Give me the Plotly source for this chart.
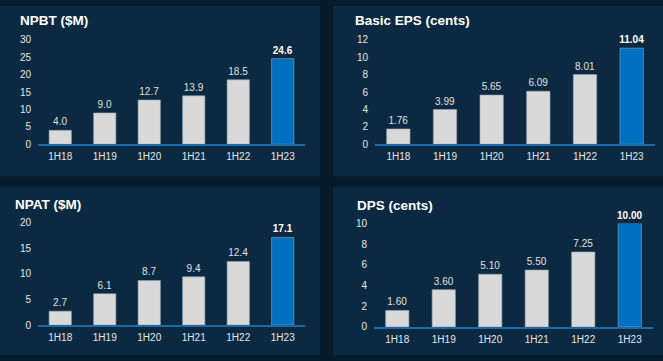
import plotly.graph_objects as go

W, H = 663, 361

categories = ["1H18", "1H19", "1H20", "1H21", "1H22", "1H23"]
npbt = [4.0, 9.0, 12.7, 13.9, 18.5, 24.6]
eps = [1.76, 3.99, 5.65, 6.09, 8.01, 11.04]
npat = [2.7, 6.1, 8.7, 9.4, 12.4, 17.1]
dps = [1.60, 3.60, 5.10, 5.50, 7.25, 10.00]

titles = ["NPBT ($M)", "Basic EPS (cents)", "NPAT ($M)", "DPS (cents)"]
decimals = [1, 2, 1, 2]
yranges = [[0, 30], [0, 12], [0, 20], [0, 10]]
ydticks = [5, 2, 5, 2]

GAP = "#061c2b"
PANEL = "#0b2a42"
GREY = "#d9d9d9"
BLUE = "#0070c0"
LINE = "#1a6aa8"
TXT = "#e6e6e6"

def fx(px):
    return px / W

def fy(py):
    return 1 - py / H

# panel geometry (pixels): x-domain, y of zero, y of top
geo = [
    (38, 305, 143, 35),
    (375, 655, 143, 35),
    (38, 305, 330, 224),
    (374, 653, 332, 225),
]
panels = [(0, 0, 320, 176), (333, 0, 663, 176), (0, 187, 320, 361), (333, 187, 663, 361)]
title_pos = [(18, 15), (353, 15), (13, 205), (355, 206)]

series = [npbt, eps, npat, dps]

fig = go.Figure()
layout = dict(
    width=W, height=H,
    margin=dict(l=0, r=0, t=0, b=0),
    paper_bgcolor=GAP, plot_bgcolor="rgba(0,0,0,0)",
    showlegend=False,
    font=dict(family="Liberation Sans, Arial, sans-serif", color=TXT, size=10),
    bargap=0.5,
    shapes=[], annotations=[],
)

for i, vals in enumerate(series):
    ax = "" if i == 0 else str(i + 1)
    fmt = "{:." + str(decimals[i]) + "f}"
    texts = [fmt.format(v) for v in vals]
    texts[-1] = "<b>" + texts[-1] + "</b>"
    colors = [GREY] * (len(vals) - 1) + [BLUE]
    fig.add_trace(go.Bar(
        x=categories, y=vals, xaxis="x" + ax, yaxis="y" + ax,
        marker=dict(color=colors, line=dict(width=0.6, color="#9aa8b4")),
        text=texts, textposition="outside", cliponaxis=False,
        constraintext="none",
        textfont=dict(size=10, color=["#e0e0e0"] * 5 + ["#ffffff"]),
        hoverinfo="skip",
    ))
    x0, x1, yz, yt = geo[i]
    layout["xaxis" + ax] = dict(
        domain=[fx(x0), fx(x1)], anchor="y" + ax,
        showline=True, linecolor=LINE, linewidth=2,
        showgrid=False, ticks="", tickfont=dict(size=10, color=TXT),
        ticklabelstandoff=2,
        fixedrange=True,
    )
    layout["yaxis" + ax] = dict(
        domain=[fy(yz), fy(yt)], anchor="x" + ax,
        range=yranges[i], dtick=ydticks[i], tick0=0,
        showgrid=False, zeroline=False, showline=False, ticks="",
        tickfont=dict(size=10, color=TXT), ticklabelstandoff=6,
        fixedrange=True,
    )
    px0, py0, px1, py1 = panels[i]
    layout["shapes"].append(dict(
        type="rect", xref="paper", yref="paper",
        x0=fx(px0), x1=fx(px1), y0=fy(py1), y1=fy(py0),
        fillcolor=PANEL, line=dict(width=0), layer="below",
    ))
    tx, ty = title_pos[i]
    layout["annotations"].append(dict(
        text="<b>" + titles[i] + "</b>", xref="paper", yref="paper",
        x=fx(tx), y=fy(ty), xanchor="left", yanchor="middle",
        showarrow=False, font=dict(size=13.5, color="#ffffff"),
    ))

fig.update_layout(**layout)
fig.write_html(
    "out.html",
    config={"displayModeBar": False, "staticPlot": True},
    post_script="document.body.style.margin='0';document.body.style.overflow='hidden';",
)
